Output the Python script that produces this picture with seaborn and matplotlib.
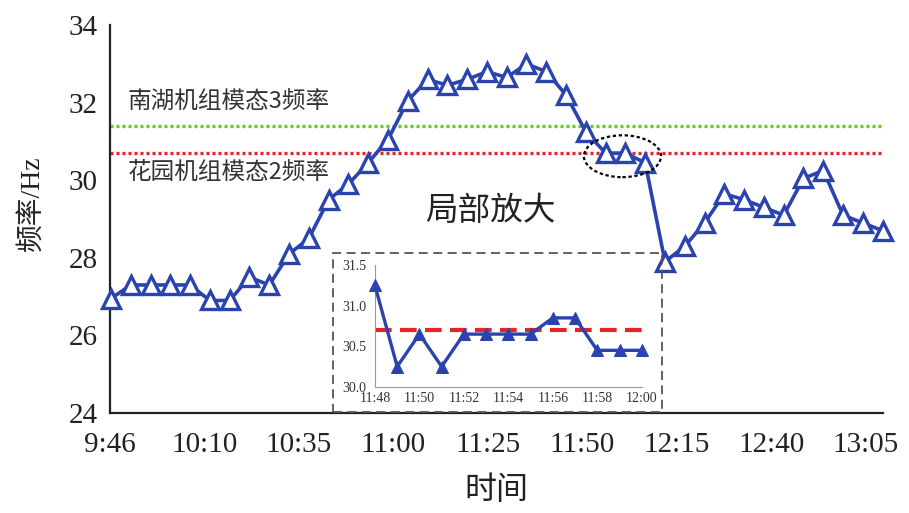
import matplotlib
matplotlib.use("Agg")
import matplotlib.pyplot as plt
import seaborn as sns
import numpy as np
import pandas as pd
from matplotlib.patches import Ellipse, Rectangle

sns.set_theme(style="white")
plt.rcParams["font.family"] = ["Liberation Serif", "Noto Sans CJK SC", "DejaVu Sans"]
plt.rcParams["axes.unicode_minus"] = False

# Main series: frequency at each sampling instant
freq = [26.95, 27.3, 27.3, 27.3, 27.3, 26.9, 26.9, 27.5, 27.3, 28.1,
        28.5, 29.5, 29.9, 30.45, 31.05, 32.05, 32.6, 32.45, 32.6, 32.8,
        32.65, 33.0, 32.8, 32.2, 31.25, 30.7, 30.7, 30.45, 27.9, 28.3,
        28.9, 29.65, 29.5, 29.3, 29.1, 30.05, 30.25, 29.1, 28.9, 28.7]
tick_pos = [0, 4, 9, 14, 19, 24, 29, 34, 39]
tick_labels = ["9:46", "10:10", "10:35", "11:00", "11:25", "11:50", "12:15", "12:40", "13:05"]

# Reference frequencies
nanhu_mode3 = 31.4
huayuan_mode2 = 30.7

# Zoomed window 11:48 - 12:00, one sample per minute
zoom_freq = [31.25, 30.25, 30.65, 30.25, 30.65, 30.65, 30.65, 30.65, 30.85, 30.85,
             30.45, 30.45, 30.45]
zoom_tick_pos = [0, 2, 4, 6, 8, 10, 12]
zoom_tick_labels = ["11:48", "11:50", "11:52", "11:54", "11:56", "11:58", "12:00"]

blue = "#2b44ad"
ink = "#222222"
main_df = pd.DataFrame({"idx": range(len(freq)), "freq": freq})
zoom_df = pd.DataFrame({"idx": range(len(zoom_freq)), "freq": zoom_freq})

fig = plt.figure(figsize=(9.09, 5.13), dpi=100)
ax = fig.add_axes([0.121, 0.195, 0.850, 0.756])

ax.axhline(nanhu_mode3, color="#62c824", lw=2.4, ls=(0, (0.9, 0.9)), zorder=1)
ax.axhline(huayuan_mode2, color="#e3242b", lw=2.4, ls=(0, (0.9, 0.9)), zorder=1)

sns.lineplot(data=main_df, x="idx", y="freq", ax=ax, color=blue, lw=2.6,
             marker="^", markersize=12.5, markerfacecolor="white",
             markeredgecolor=blue, markeredgewidth=2.4, zorder=3, clip_on=False)

ax.set_xlim(0, 39)
ax.set_ylim(24, 34)
ax.set_yticks([24, 26, 28, 30, 32, 34])

# tick marks on the sample grid, labels spread evenly along the axis
ax.set_xticks(tick_pos)
ax.set_xticklabels([""] * len(tick_pos))
label_pos = np.linspace(-0.05, 38.15, len(tick_labels))
ax.set_xticks(label_pos, minor=True)
ax.set_xticklabels(tick_labels, minor=True)
ax.tick_params(axis="x", which="minor", length=0, labelsize=21, colors=ink, pad=14)

for s in ["top", "right"]:
    ax.spines[s].set_visible(False)
for s in ["left", "bottom"]:
    ax.spines[s].set_color(ink)
    ax.spines[s].set_linewidth(1.6)
ax.tick_params(axis="both", which="major", direction="in", length=6, width=1.4,
               labelsize=21, colors=ink, pad=9)
ax.set_xlabel("时间", fontsize=23, labelpad=13, color=ink)
ax.set_ylabel("频率/Hz", fontsize=20, color=ink)
ax.yaxis.set_label_coords(-0.084, 0.54)

ax.text(0.85, 32.0, "南湖机组模态3频率", fontsize=17, va="center", ha="left",
        color="#333333", family=["Noto Sans CJK SC"])
ax.text(0.85, 30.2, "花园机组模态2频率", fontsize=17, va="center", ha="left",
        color="#333333", family=["Noto Sans CJK SC"])
ax.text(19.2, 29.2, "局部放大", fontsize=23.5, va="center", ha="center",
        color=ink, family=["Noto Sans CJK SC"])

ax.add_patch(Ellipse((25.85, 30.62), 3.9, 1.08, fill=False, ec="black",
                     lw=1.6, ls=(0, (1.5, 1.2)), zorder=4))

# Dashed frame around the inset
fig.add_artist(Rectangle((0.366, 0.197), 0.362, 0.310, transform=fig.transFigure,
                         fill=False, ec="#555555", lw=1.3, ls=(0, (5, 3))))

ins = fig.add_axes([0.4125, 0.246, 0.2935, 0.237])
ins.axhline(huayuan_mode2, xmin=0, xmax=1, color="#e3242b", lw=3, ls=(0, (4, 2)), zorder=2)
sns.lineplot(data=zoom_df, x="idx", y="freq", ax=ins, color=blue, lw=2.4,
             marker="^", markersize=8, markerfacecolor=blue, markeredgecolor=blue,
             zorder=3, clip_on=False)
ins.set_xlim(0, 12)
ins.set_ylim(30.0, 31.5)
ins.set_yticks([30.0, 30.5, 31.0, 31.5])
ins.set_yticklabels(["30.0", "30.5", "31.0", "31.5"])
ins.set_xticks(zoom_tick_pos)
ins.set_xticklabels(zoom_tick_labels)
ins.set_xlabel("")
ins.set_ylabel("")
ins.patch.set_alpha(0)
for s in ["top", "right"]:
    ins.spines[s].set_visible(False)
for s in ["left", "bottom"]:
    ins.spines[s].set_color("#999999")
    ins.spines[s].set_linewidth(0.8)
ins.tick_params(axis="both", direction="in", length=3, width=0.8, labelsize=10,
                colors="#333333")
ins.tick_params(axis="y", pad=6)
ins.tick_params(axis="x", pad=4)

fig.savefig("out.png", dpi=100, facecolor="white")
